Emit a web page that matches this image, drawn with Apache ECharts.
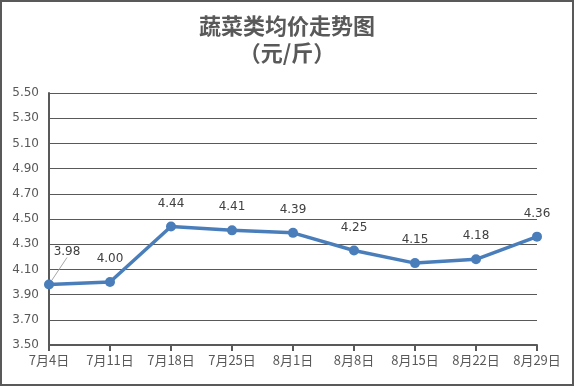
<!DOCTYPE html>
<html><head><meta charset="utf-8">
<script src="https://cdn.jsdelivr.net/npm/echarts@6/dist/echarts.min.js"></script>
<style>html,body{margin:0;padding:0;background:#fff}#c{width:574px;height:386px}</style>
</head><body><div id="c"></div>
<script>
const categories = ['7月4日','7月11日','7月18日','7月25日','8月1日','8月8日','8月15日','8月22日','8月29日'];
const prices = [3.98, 4.00, 4.44, 4.41, 4.39, 4.25, 4.15, 4.18, 4.36];
const yTicks = {min: 3.5, max: 5.5, interval: 0.2};
const titleLines = ['蔬菜类均价走势图', '（元/斤）'];

const seriesData = prices.map((v, i) => i === 0
  ? {value: v, labelLine: {show: true, lineStyle: {color: '#a6a6a6', width: 1}}}
  : {value: v});

const chart = echarts.init(document.getElementById('c'));
chart.setOption({
  animation: false,
  title: {
    text: titleLines.join('\n'), left: 'center', top: 7,
    textStyle: {fontFamily: '"Noto Sans CJK SC", serif', fontSize: 22, fontWeight: 'bold', color: '#595959', lineHeight: 27}
  },
  graphic: [{type: 'rect', shape: {x: 1, y: 1, width: 572, height: 384}, style: {fill: 'none', stroke: '#595959', lineWidth: 2}, silent: true}],
  grid: {left: 49, right: 37, top: 93, bottom: 41, containLabel: false},
  xAxis: {
    type: 'category', data: categories, boundaryGap: false,
    axisLine: {lineStyle: {color: '#595959', width: 2}},
    axisTick: {show: true, alignWithLabel: true, length: 6, lineStyle: {color: '#595959', width: 2}},
    axisLabel: {color: '#595959', fontSize: 13, margin: 9, fontFamily: '"Noto Sans CJK SC", sans-serif', interval: 0}
  },
  yAxis: {
    type: 'value', min: yTicks.min, max: yTicks.max, interval: yTicks.interval,
    axisLine: {show: true, lineStyle: {color: '#595959', width: 2}},
    axisTick: {show: false},
    splitLine: {lineStyle: {color: '#595959', width: 1}},
    axisLabel: {color: '#595959', fontSize: 12, margin: 10, fontFamily: 'Verdana, "DejaVu Sans", sans-serif', formatter: v => v.toFixed(2)}
  },
  series: [{
    type: 'line', data: seriesData,
    lineStyle: {color: '#4a7ebb', width: 3.5},
    itemStyle: {color: '#4a7ebb'},
    symbol: 'circle', symbolSize: 10,
    label: {show: true, position: 'top', distance: 12, color: '#404040', fontSize: 12, fontFamily: 'Verdana, "DejaVu Sans", sans-serif', formatter: p => p.value.toFixed(2)},
    labelLine: {show: false},
    labelLayout: function (p) { return p.dataIndex === 0 ? {dx: 18, dy: -10} : {}; }
  }]
});
</script></body></html>
